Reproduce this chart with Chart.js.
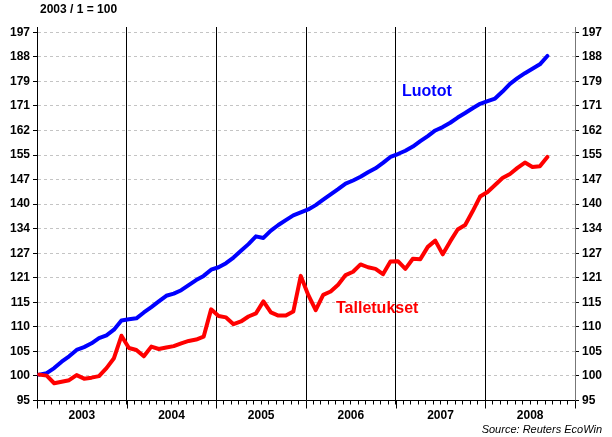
<!DOCTYPE html>
<html>
<head>
<meta charset="utf-8">
<script src="https://cdn.jsdelivr.net/npm/chart.js@4.4.1/dist/chart.umd.min.js"></script>
<style>
  html, body { margin: 0; padding: 0; background: #fff; }
  #wrap { width: 612px; height: 437px; }
</style>
</head>
<body>
<div id="wrap"><canvas id="chart" width="612" height="437"></canvas></div>
<script>
/* Years on the x-axis, 12 months each */
var years = ['2003', '2004', '2005', '2006', '2007', '2008'];

/* Monthly index values, 2003/1 = 100, Jan 2003 .. Sep 2008 */
var luotot = [
  100.0, 100.3, 101.3, 102.6, 103.7, 105.0, 105.6, 106.4, 107.5, 108.1, 109.3, 111.3,
  111.6, 111.8, 113.1, 114.3, 115.6, 116.9, 117.4, 118.2, 119.4, 120.6, 121.6, 123.1,
  123.7, 124.7, 126.1, 127.8, 129.5, 131.5, 131.1, 133.0, 134.5, 135.8, 137.1, 137.9,
  138.7, 139.9, 141.4, 142.9, 144.4, 146.0, 146.9, 148.0, 149.3, 150.5, 152.1, 153.9,
  154.8, 155.8, 157.1, 158.8, 160.4, 162.2, 163.3, 164.7, 166.4, 167.9, 169.5, 171.0,
  171.9, 172.8, 175.2, 177.9, 179.9, 181.7, 183.3, 184.9, 188.0
];
var talletukset = [
  100.0, 99.8, 98.3, 98.6, 98.9, 99.9, 99.2, 99.4, 99.7, 101.3, 103.3, 108.0,
  105.4, 105.0, 103.7, 105.7, 105.2, 105.5, 105.8, 106.4, 106.9, 107.2, 107.8, 113.8,
  112.3, 112.0, 110.5, 111.1, 112.2, 112.9, 115.6, 113.1, 112.4, 112.4, 113.3, 121.6,
  117.1, 113.6, 117.1, 117.9, 119.5, 121.8, 122.6, 124.4, 123.7, 123.3, 122.0, 125.1,
  125.2, 123.3, 125.8, 125.7, 128.8, 130.4, 126.9, 130.2, 133.3, 134.5, 138.2, 142.3,
  143.6, 145.6, 147.6, 148.8, 150.6, 152.2, 150.9, 151.1, 153.9
];

/* Y tick labels; EcoWin spaces them evenly on the log axis */
var yTickLabels = ['95', '100', '105', '110', '115', '121', '127', '134', '140',
                   '147', '155', '162', '171', '179', '188', '197'];

var FONT = '"Liberation Sans", Arial, sans-serif';
var BLUE = '#0000ff';
var RED = '#ff0000';

/* observations sit a little after the start of each month */
var monthPos = 0.3;
function toPoints(arr) {
  return arr.map(function(v, i) { return { x: i + monthPos, y: v }; });
}

/* evenly spaced log ticks between the first and last label */
var yLo = Number(yTickLabels[0]);
var yHi = Number(yTickLabels[yTickLabels.length - 1]);
var yTickValues = yTickLabels.map(function(_, k) {
  return yLo * Math.pow(yHi / yLo, k / (yTickLabels.length - 1));
});

function yAxis(position, borderColor) {
  return {
    type: 'logarithmic',
    position: position,
    min: yLo,
    max: 199.1,
    afterBuildTicks: function(axis) {
      axis.ticks = yTickValues.map(function(v) { return { value: v }; });
    },
    afterFit: function(scale) { scale.width = 37; },
    ticks: {
      callback: function(value, index) { return yTickLabels[index]; },
      font: { family: FONT, size: 12, weight: 'bold' },
      color: '#000',
      padding: 3
    },
    grid: {
      color: '#c4c4c4',
      drawOnChartArea: position === 'left',
      tickColor: '#000',
      tickLength: 4
    },
    border: { display: true, color: borderColor, dash: [3, 3] }
  };
}

/* extra text and the longer year ticks */
var extras = {
  id: 'extras',
  afterDraw: function(chart) {
    var ctx = chart.ctx;
    var area = chart.chartArea;
    var xs = chart.scales.x;
    ctx.save();
    ctx.strokeStyle = '#000';
    ctx.lineWidth = 1;
    for (var m = 0; m <= years.length * 12; m += 12) {
      var px = Math.round(xs.getPixelForValue(m)) + 0.5;
      ctx.beginPath();
      ctx.moveTo(px, area.bottom);
      ctx.lineTo(px, area.bottom + 8);
      ctx.stroke();
    }
    ctx.textBaseline = 'middle';
    ctx.fillStyle = '#000';
    ctx.font = 'bold 12px ' + FONT;
    ctx.textAlign = 'left';
    ctx.fillText('2003 / 1 = 100', 40, 10);
    ctx.font = 'italic 11px ' + FONT;
    ctx.textAlign = 'right';
    ctx.fillText('Source: Reuters EcoWin', 602, 430);
    ctx.font = 'bold 16px ' + FONT;
    ctx.textAlign = 'left';
    ctx.fillStyle = BLUE;
    ctx.fillText('Luotot', 402, 92);
    ctx.fillStyle = RED;
    ctx.fillText('Talletukset', 336, 309);
    ctx.restore();
  }
};

new Chart(document.getElementById('chart').getContext('2d'), {
  type: 'line',
  data: {
    datasets: [
      {
        label: 'Talletukset',
        data: toPoints(talletukset),
        borderColor: RED,
        borderWidth: 4,
        pointRadius: 0,
        tension: 0,
        borderJoinStyle: 'round',
        borderCapStyle: 'round',
        yAxisID: 'y'
      },
      {
        label: 'Luotot',
        data: toPoints(luotot),
        borderColor: BLUE,
        borderWidth: 4,
        pointRadius: 0,
        tension: 0,
        borderJoinStyle: 'round',
        borderCapStyle: 'round',
        yAxisID: 'y'
      }
    ]
  },
  options: {
    responsive: false,
    devicePixelRatio: 1,
    animation: false,
    layout: { padding: { top: 27, left: 0, right: 0, bottom: 0 } },
    plugins: {
      legend: { display: false },
      tooltip: { enabled: false }
    },
    scales: {
      x: {
        type: 'linear',
        min: 0,
        max: years.length * 12,
        afterBuildTicks: function(axis) {
          var t = [];
          for (var m = 0; m <= years.length * 12; m++) t.push({ value: m });
          axis.ticks = t;
        },
        afterFit: function(scale) { scale.height = 36.5; },
        ticks: {
          autoSkip: false,
          maxRotation: 0,
          minRotation: 0,
          padding: 4,
          callback: function(value) {
            return value % 12 === 6 ? years[(value - 6) / 12] : '';
          },
          font: { family: FONT, size: 12, weight: 'bold' },
          color: '#000'
        },
        grid: {
          color: function(ctx) {
            var v = ctx.tick ? ctx.tick.value : 0;
            return (v % 12 === 0 && v > 0 && v < years.length * 12) ? '#000' : 'rgba(0,0,0,0)';
          },
          tickColor: '#000',
          tickLength: 4
        },
        border: { display: true, color: '#000' }
      },
      y: yAxis('left', '#000'),
      y2: yAxis('right', '#777')
    }
  },
  plugins: [extras]
});
</script>
</body>
</html>
